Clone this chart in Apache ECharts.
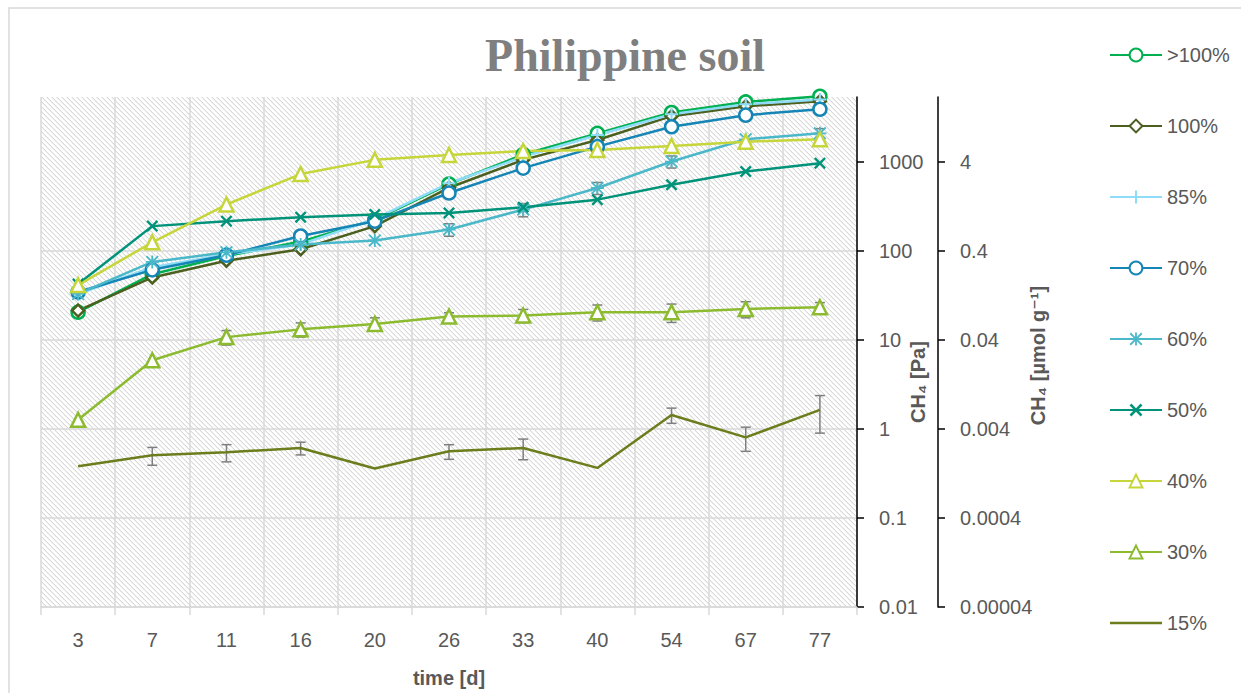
<!DOCTYPE html>
<html><head><meta charset="utf-8">
<script src="https://cdn.jsdelivr.net/npm/echarts@6/dist/echarts.min.js"></script>
<style>html,body{margin:0;padding:0;background:#fff}#c{width:1241px;height:693px}</style>
</head><body><div id="c"></div>
<script>
// ---- data ----
const days = ['3','7','11','16','20','26','33','40','54','67','77'];
const seriesNames = ['>100%','100%','85%','70%','60%','50%','40%','30%','15%'];
const vOver100 = [20.6, 55, 88, 128, 225, 568, 1220, 2108, 3617, 4751, 5500];
const v100 = [21.5, 50.6, 78, 105, 191, 516, 1061, 1774, 3289, 4254, 4836];
const v85 = [33, 66, 92, 119, 230, 580, 1150, 2018, 3462, 4478, 5053];
const v70 = [34.7, 61.6, 90, 148, 217, 450, 857, 1494, 2498, 3374, 3937];
const v60 = [33, 75.6, 97, 119, 132, 175, 293, 512, 1016, 1807, 2108];
const v50 = [42.6, 191, 217, 241, 258, 269, 311, 379, 558, 785, 975];
const v40 = [41.5, 125.6, 334, 735, 1061, 1206, 1337, 1372, 1521, 1699, 1807];
const v30 = [1.27, 5.93, 10.8, 13.2, 15.2, 18.4, 18.9, 20.6, 20.6, 22.4, 23.4];
const v15 = [0.383, 0.507, 0.548, 0.612, 0.36, 0.562, 0.612, 0.366, 1.44, 0.806, 1.64];
const e60 = [0, 0, 0, 0, 0, 28, 50, 79, 157, 0, 270];
const e30 = [0, 0, 2.0, 2.4, 2.6, 1.9, 3.2, 4.2, 4.8, 4.6, 3.0];
const e15 = [0, 0.115, 0.12, 0.1, 0, 0.105, 0.16, 0, 0.28, 0.244, 0.74];
const paTicks = ['0.01','0.1','1','10','100','1000'];
const umolTicks = ['0.00004','0.0004','0.004','0.04','0.4','4'];
const paMax = 5400;
const umolPerPa = 0.004;

// ---- styling ----
const FONT = "'Liberation Sans', 'DejaVu Sans', sans-serif";
const TXT = '#595959';
const GRID = '#d9d9d9';
const colors = ['#00b050','#4b5f1e','#8fdcf8','#1585b5','#4bb8c9','#00937a','#c6d63a','#8cbb30','#6b7d1c'];

const PLUS = 'path://M4.2,0 H5.8 V4.2 H10 V5.8 H5.8 V10 H4.2 V5.8 H0 V4.2 H4.2 Z';
const XMARK = 'path://M0,1.4 L1.4,0 L5,3.6 L8.6,0 L10,1.4 L6.4,5 L10,8.6 L8.6,10 L5,6.4 L1.4,10 L0,8.6 L3.6,5 Z';
const STAR = 'path://M4.3,0 H5.7 V4.3 H10 V5.7 H5.7 V10 H4.3 V5.7 H0 V4.3 H4.3 Z M0,1 L1,0 L5,4 L9,0 L10,1 L6,5 L10,9 L9,10 L5,6 L1,10 L0,9 L4,5 Z';
const LINE_ICON = 'path://M0,0 L0,0 M52,16 L52,16 M0,6.8 H52 V9.2 H0 Z';

// hatch tile
const tile = document.createElement('canvas');
tile.width = 5; tile.height = 5;
const g = tile.getContext('2d');
g.fillStyle = '#ffffff'; g.fillRect(0,0,5,5);
for (let i = 0; i < 5; i++) {
  g.fillStyle = '#d9d9d9'; g.fillRect(i, i, 1, 1);
  g.fillStyle = '#efefef'; g.fillRect(i, (i+1)%5, 1, 1);
}
const hatch = tile.toDataURL();

function nearestLabel(list, v) {
  let best = list[0], bd = Infinity;
  for (const s of list) {
    const d = Math.abs(Math.log10(parseFloat(s)) - Math.log10(v));
    if (d < bd) { bd = d; best = s; }
  }
  return best;
}

function mk(i, data, symbol, size, hollow) {
  const color = colors[i];
  return {
    name: seriesNames[i], type: 'line', data: data, clip: false,
    symbol: symbol, symbolSize: size, showSymbol: symbol !== 'none',
    color: color,
    lineStyle: { color: color, width: 2.5 },
    itemStyle: hollow ? { color: '#fff', borderColor: color, borderWidth: 2.5 } : { color: color, borderWidth: 0 },
    emphasis: { disabled: true },
    z: 3
  };
}

function errSeries(name, vals, errs) {
  return {
    name: name, type: 'custom', z: 2, silent: true,
    data: vals.map((v, i) => [i, v, errs[i]]),
    encode: { x: 0, y: 1 },
    renderItem: function (params, api) {
      const x = api.value(0), v = api.value(1), e = api.value(2);
      if (!e) return null;
      const top = api.coord([x, v + e]);
      const bot = api.coord([x, Math.max(v - e, 1e-6)]);
      const w = 5;
      const style = { stroke: '#7f7f7f', lineWidth: 1.5 };
      return { type: 'group', children: [
        { type: 'line', shape: { x1: top[0], y1: top[1], x2: bot[0], y2: bot[1] }, style: style },
        { type: 'line', shape: { x1: top[0]-w, y1: top[1], x2: top[0]+w, y2: top[1] }, style: style },
        { type: 'line', shape: { x1: bot[0]-w, y1: bot[1], x2: bot[0]+w, y2: bot[1] }, style: style }
      ]};
    }
  };
}

const legendData = seriesNames.map(n => n === '15%' ? { name: n, icon: LINE_ICON } : { name: n });

const chart = echarts.init(document.getElementById('c'), null, { renderer: 'svg' });
chart.setOption({
  animation: false,
  backgroundColor: '#fff',
  textStyle: { fontFamily: FONT },
  title: {
    text: 'Philippine soil', left: 620, textAlign: 'center', top: 27,
    textStyle: { fontFamily: "'Liberation Serif', 'DejaVu Serif', serif", fontWeight: 'bold', fontSize: 46, color: '#7f7f7f' }
  },
  graphic: [{
    type: 'rect', silent: true, z: -10,
    shape: { x: 9, y: 8, width: 1400, height: 1000 },
    style: { fill: 'none', stroke: GRID, lineWidth: 1.5 }
  }],
  legend: {
    orient: 'vertical', left: 1104, top: 40,
    itemWidth: 52, itemHeight: 16, itemGap: 51,
    data: legendData,
    textStyle: { fontSize: 20, color: TXT, fontFamily: FONT, lineHeight: 20 }
  },
  grid: {
    left: 41, top: 97, right: 384, bottom: 83,
    show: true, borderWidth: 0,
    backgroundColor: { image: hatch, repeat: 'repeat' }
  },
  xAxis: {
    type: 'category', data: days, boundaryGap: true,
    axisLine: { lineStyle: { color: GRID, width: 1.5 } },
    axisTick: { show: true, length: 8, lineStyle: { color: GRID, width: 1.5 } },
    axisLabel: { color: TXT, fontSize: 20, margin: 23, fontFamily: FONT },
    splitLine: { show: true, lineStyle: { color: GRID, width: 1.5 } },
    name: 'time [d]', nameLocation: 'middle', nameGap: 61, nameMoveOverlap: false,
    nameTextStyle: { fontWeight: 'bold', fontSize: 20, color: TXT, fontFamily: FONT }
  },
  yAxis: [{
    type: 'log', logBase: 10, min: parseFloat(paTicks[0]), max: paMax, position: 'right',
    axisLine: { show: true, onZero: false, lineStyle: { color: '#000', width: 1.5 } },
    axisTick: { show: true, length: 7, lineStyle: { color: '#000', width: 1.5 }, customValues: paTicks.map(parseFloat) },
    axisLabel: { customValues: paTicks.map(parseFloat), formatter: v => nearestLabel(paTicks, v), margin: 22, color: TXT, fontSize: 20, fontFamily: FONT },
    splitLine: { show: true, showMaxLine: false, lineStyle: { color: GRID, width: 1.5 } },
    name: 'CH₄ [Pa]', nameLocation: 'middle', nameGap: 51, nameRotate: 90, nameMoveOverlap: false,
    nameTextStyle: { fontWeight: 'bold', fontSize: 20, color: TXT, fontFamily: FONT, padding: [0, 60, 0, 0] }
  }, {
    type: 'log', logBase: 10, min: parseFloat(paTicks[0]) * umolPerPa, max: paMax * umolPerPa, position: 'right', offset: 81,
    axisLine: { show: true, onZero: false, lineStyle: { color: '#000', width: 1.5 } },
    axisTick: { show: true, length: 7, lineStyle: { color: '#000', width: 1.5 }, customValues: umolTicks.map(parseFloat) },
    axisLabel: { customValues: umolTicks.map(parseFloat), formatter: v => nearestLabel(umolTicks, v), margin: 22, color: TXT, fontSize: 20, fontFamily: FONT },
    splitLine: { show: false },
    name: 'CH₄ [µmol g⁻¹]', nameLocation: 'middle', nameGap: 90, nameRotate: 90, nameMoveOverlap: false,
    nameTextStyle: { fontWeight: 'bold', fontSize: 20, color: TXT, fontFamily: FONT, padding: [0, 7, 0, 0] }
  }],
  series: [
    errSeries('e60', v60, e60),
    errSeries('e30', v30, e30),
    errSeries('e15', v15, e15),
    mk(0, vOver100, 'circle', 13, true),
    mk(1, v100, 'diamond', 12, true),
    mk(2, v85, PLUS, 13, false),
    mk(3, v70, 'circle', 13, true),
    mk(4, v60, STAR, 13, false),
    mk(5, v50, XMARK, 12, false),
    mk(6, v40, 'triangle', 14, true),
    mk(7, v30, 'triangle', 14, true),
    mk(8, v15, 'none', 0, false)
  ]
});
</script>
</body></html>
